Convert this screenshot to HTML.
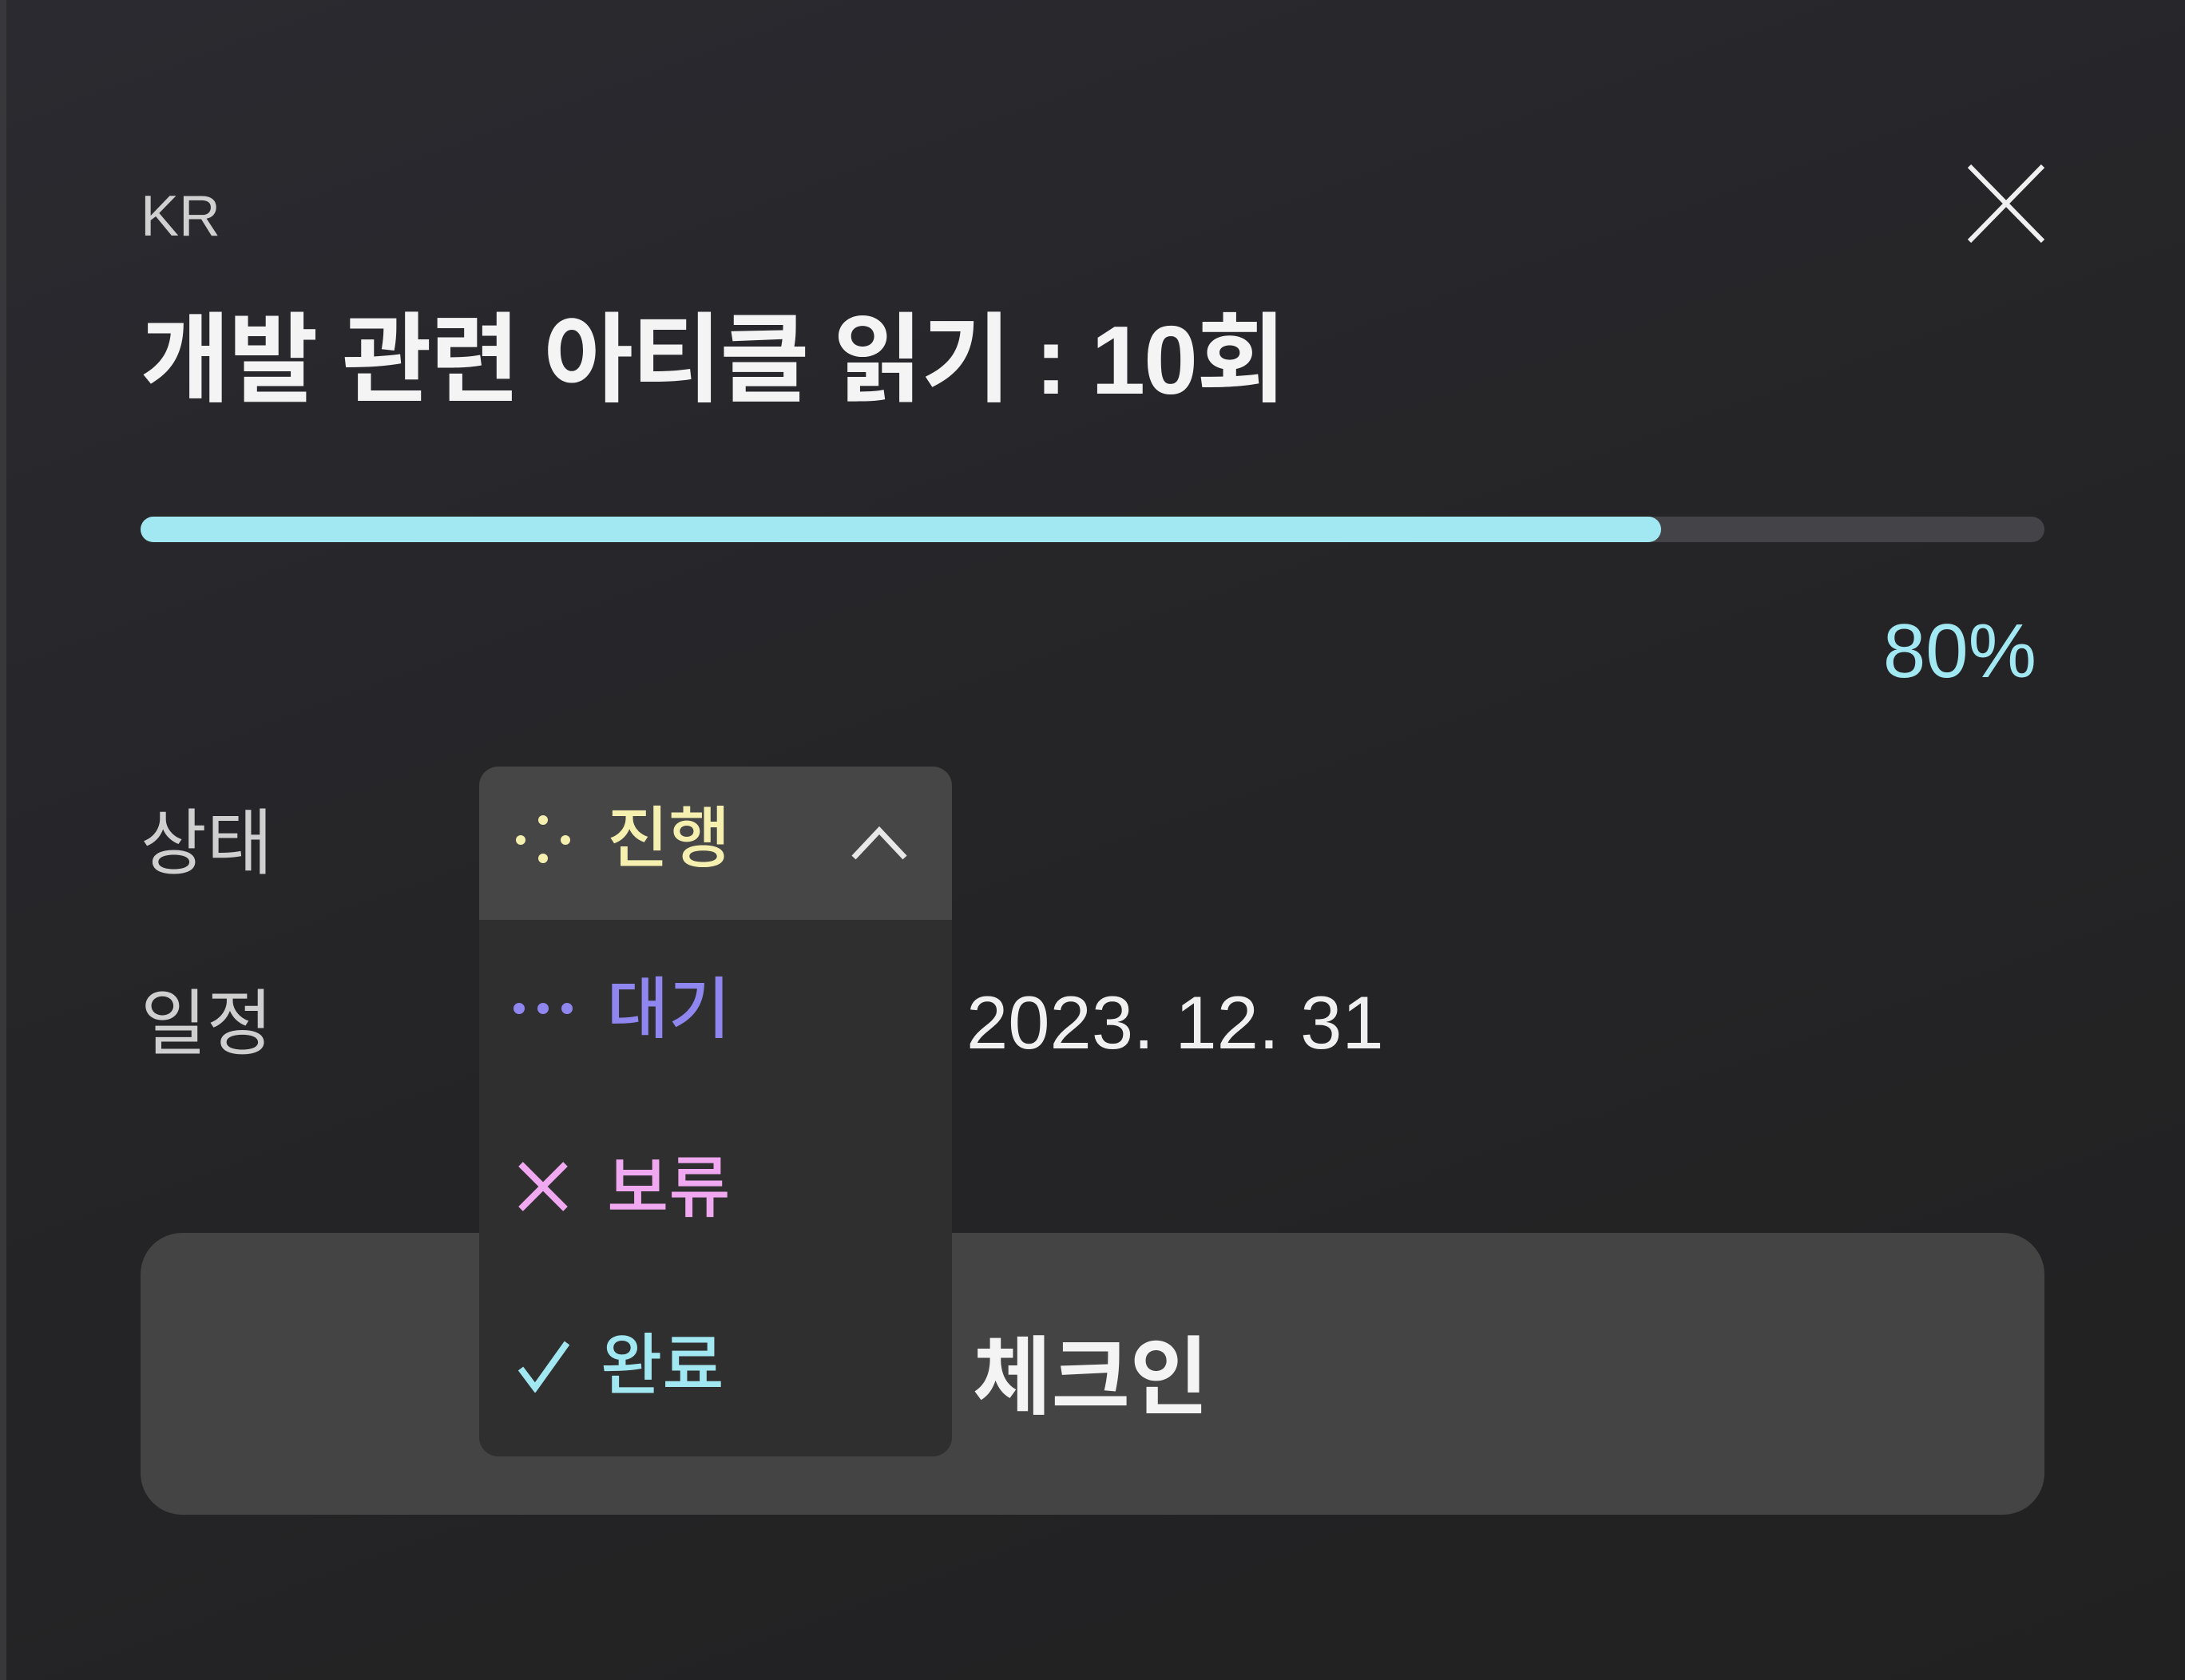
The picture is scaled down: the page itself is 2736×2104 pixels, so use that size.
<!DOCTYPE html>
<html><head><meta charset="utf-8"><style>
*{margin:0;padding:0;box-sizing:border-box}
body{width:2736px;height:2104px;overflow:hidden;background:linear-gradient(160deg,#2b2a30 0%,#252528 45%,#212121 100%);font-family:"Liberation Sans","Noto Sans CJK KR",sans-serif;position:relative}
.a{position:absolute;white-space:nowrap;line-height:1}
</style></head><body>
<div class="a" style="left:0;top:0;width:8px;height:2104px;background:#38383a"></div>
<div class="a" style="left:176px;top:235px;font-size:72px;color:#d0d0d0">KR</div>
<svg class="a" style="left:2462px;top:204px" width="100" height="102"><path d="M4 4L96 98M96 4L4 98" stroke="#f0f0f0" stroke-width="6"/></svg>
<div class="a" style="left:176px;top:390px;font-size:122px;font-weight:bold;color:#f4f4f4;letter-spacing:-2px">개발 관련 아티클 읽기 : 10회</div>
<div class="a" style="left:176px;top:647px;width:2384px;height:32px;border-radius:16px;background:#444448"></div>
<div class="a" style="left:176px;top:647px;width:1904px;height:32px;border-radius:16px;background:#a2e8f2"></div>
<div class="a" style="right:186px;top:768px;font-size:96px;color:#a2e8f2">80%</div>
<div class="a" style="left:176px;top:1012px;font-size:90px;color:#cfcfcf">상태</div>
<div class="a" style="left:176px;top:1238px;font-size:90px;color:#cfcfcf">일정</div>
<div class="a" style="left:1210px;top:1234px;font-size:94px;color:#f0f0f0">2023. 12. 31</div>
<div class="a" style="left:176px;top:1544px;width:2384px;height:353px;border-radius:52px;background:#444444"></div>
<div class="a" style="left:1218px;top:1672px;font-size:107px;font-weight:bold;color:#f4f4f4">체크인</div>
<div class="a" style="left:600px;top:960px;width:592px;height:864px;border-radius:24px;background:#2f2f2f;overflow:hidden">
 <div class="a" style="left:0;top:0;width:592px;height:192px;background:#464646"></div>
</div>
<svg class="a" style="left:640px;top:1015px" width="80" height="70"><g fill="#f5f0b0"><circle cx="12" cy="37" r="6"/><circle cx="40" cy="12" r="6"/><circle cx="68" cy="37" r="6"/><circle cx="40" cy="60" r="6"/></g></svg>
<div class="a" style="left:760px;top:1008px;font-size:84px;font-weight:500;color:#f5f0b0">진행</div>
<svg class="a" style="left:1064px;top:1030px" width="74" height="50"><path d="M5 44L37 10L69 44" fill="none" stroke="#e8e8e8" stroke-width="7"/></svg>
<svg class="a" style="left:640px;top:1246px" width="80" height="34"><g fill="#8f86f0"><circle cx="10" cy="17" r="7"/><circle cx="40" cy="17" r="7"/><circle cx="70" cy="17" r="7"/></g></svg>
<div class="a" style="left:760px;top:1222px;font-size:84px;font-weight:500;color:#8f86f0">대기</div>
<svg class="a" style="left:648px;top:1454px" width="64" height="64"><path d="M4 4L60 60M60 4L4 60" stroke="#f0a8f0" stroke-width="8"/></svg>
<div class="a" style="left:760px;top:1446px;font-size:84px;font-weight:500;color:#f0a8f0">보류</div>
<svg class="a" style="left:648px;top:1678px" width="66" height="66"><path d="M4 36L22 60L62 4" fill="none" stroke="#a2e8f2" stroke-width="8"/></svg>
<div class="a" style="left:752px;top:1668px;font-size:84px;font-weight:500;color:#a2e8f2">완료</div>
</body></html>
